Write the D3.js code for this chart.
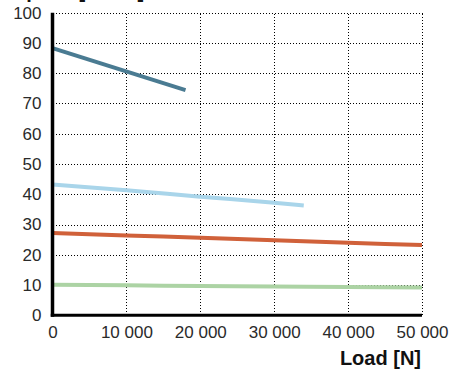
<!DOCTYPE html>
<html><head><meta charset="utf-8">
<script src="https://cdn.jsdelivr.net/npm/d3@7"></script>
<style>body{margin:0;background:#fff;}svg{display:block;font-family:"Liberation Sans",Arial,Helvetica,sans-serif;}</style>
</head><body>
<svg id="c" width="449" height="371"></svg>
<script>
const yTicks = [0,10,20,30,40,50,60,70,80,90,100];
const xTicks = [0,10000,20000,30000,40000,50000];
const seriesDark = [[0,88.3],[18000,74.4]];
const seriesLightBlue = [[0,43.2],[10000,41.3],[20000,39.2],[30000,37.2],[34000,36.3]];
const seriesOrange = [[0,27.2],[10000,26.4],[20000,25.6],[30000,24.8],[40000,24.0],[50000,23.2]];
const seriesGreen = [[0,10.1],[10000,9.9],[20000,9.7],[30000,9.5],[40000,9.35],[50000,9.2]];
const xTitle = "Load [N]";
const yTitle = "Speed [mm/s]";

const svg = d3.select("#c");
const x = d3.scaleLinear().domain([0,50000]).range([52.5,422]);
const y = d3.scaleLinear().domain([0,100]).range([315.3,12.7]);
const fmt = v => v===0 ? "0" : d3.format(",")(v).replace(/,/g," ");
const px = v => Math.round(v) + 0.5;

// grid
const g = svg.append("g").attr("shape-rendering","crispEdges");
g.selectAll("line.h").data(yTicks.filter(d=>d>0)).join("line")
  .attr("x1",x(0)).attr("x2",px(x(50000))).attr("y1",d=>px(y(d))).attr("y2",d=>px(y(d)))
  .attr("stroke","#000").attr("stroke-width",1).attr("stroke-dasharray","1,2");
g.selectAll("line.v").data(xTicks.filter(d=>d>0)).join("line")
  .attr("x1",d=>px(x(d))).attr("x2",d=>px(x(d))).attr("y1",y(0)).attr("y2",px(y(100)))
  .attr("stroke","#000").attr("stroke-width",1).attr("stroke-dasharray","1,2");

// lines
const line = d3.line().x(d=>x(d[0])).y(d=>y(d[1])).curve(d3.curveMonotoneX);
[[seriesGreen,"#acd3a4"],[seriesOrange,"#d0613a"],[seriesLightBlue,"#a9d5ea"],[seriesDark,"#4a7b92"]].forEach(([s,c])=>{
  svg.append("path").datum(s).attr("d",line).attr("fill","none").attr("stroke",c).attr("stroke-width",4);
});

// axes
const xa = svg.append("g").attr("transform",`translate(0,${y(0)})`)
  .call(d3.axisBottom(x).tickValues(xTicks).tickFormat(fmt).tickSize(0).tickPadding(11));
xa.select(".domain").remove();
xa.selectAll("text").attr("font-size",17).attr("fill","#2a2a2a").attr("font-family","Liberation Sans, Arial, sans-serif");
const ya = svg.append("g").attr("transform",`translate(${x(0)},0)`)
  .call(d3.axisLeft(y).tickValues(yTicks).tickFormat(d3.format("d")).tickSize(0).tickPadding(11));
ya.select(".domain").remove();
ya.selectAll("text").attr("font-size",17).attr("fill","#2a2a2a").attr("font-family","Liberation Sans, Arial, sans-serif");

svg.append("line").attr("x1",x(0)).attr("x2",x(0)).attr("y1",y(100)).attr("y2",y(0)+1.5)
  .attr("stroke","#000").attr("stroke-width",3.5);
svg.append("line").attr("x1",x(0)-1.75).attr("x2",x(50000)).attr("y1",y(0)).attr("y2",y(0))
  .attr("stroke","#000").attr("stroke-width",3);

svg.append("text").attr("x",421).attr("y",365).attr("text-anchor","end")
  .attr("font-size",20).attr("font-weight","bold").attr("fill","#111").text(xTitle);
svg.append("text").attr("x",13).attr("y",-2)
  .attr("font-size",20).attr("font-weight","bold").attr("fill","#111").text(yTitle);
</script>
</body></html>
